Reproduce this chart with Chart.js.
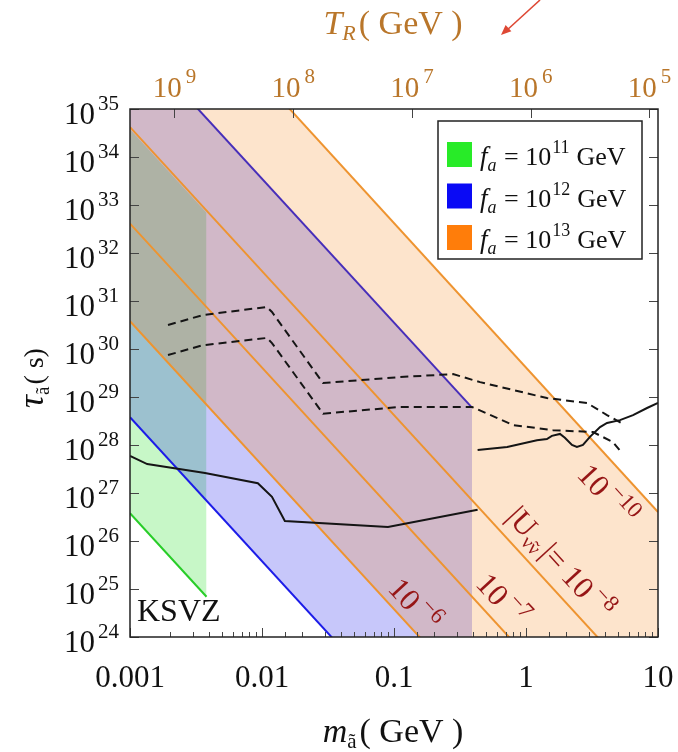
<!DOCTYPE html>
<html>
<head>
<meta charset="utf-8">
<script src="https://cdn.jsdelivr.net/npm/chart.js@4.4.1/dist/chart.umd.min.js"></script>
<style>
  html, body { margin: 0; padding: 0; background: #fff; }
  canvas { display: block; }
</style>
</head>
<body>
<canvas id="chart" width="678" height="752"></canvas>
<script>
// axis ticks
const massTicks = [0.001, 0.01, 0.1, 1, 10]
const massTickLabels = ["0.001", "0.01", "0.1", "1", "10"]
const tauTickExps = [24, 25, 26, 27, 28, 29, 30, 31, 32, 33, 34, 35]
const trTickExps = [9, 8, 7, 6, 5]
const trRange = [8.47e4, 2.37e9]

// f_a = 10^11 GeV band
const greenMass = [0.001, 0.0038]
const greenLowTau = [3.8e26, 6.9e24]
const greenHighTau = [3.8e34, 6.9e32]

// f_a = 10^12 GeV band
const blueMass = [0.001, 0.39]
const blueLowTau = [3.8e28, 6.4e20]
const blueHighTau = [3.5e36, 6.0e28]

// f_a = 10^13 GeV band and |U| lines
const orangeMass = [0.001, 10]
const mixing6Tau = [3.8e30, 3.8e18]
const mixing7Tau = [4.1e32, 4.1e20]
const mixing8Tau = [4.2e34, 4.2e22]
const mixing10Tau = [4.4e38, 4.0e26]

// black bounds
const boundAMass = [0.001, 0.00135, 0.0037, 0.0093, 0.0119, 0.0149, 0.09, 0.43]
const boundATau = [5.9e27, 4.0e27, 2.6e27, 1.6e27, 8.3e26, 2.6e26, 1.95e26, 4.5e26]
const boundBMass = [0.43, 0.72, 1.21, 1.44, 1.57, 1.81, 1.97, 2.23, 2.43, 2.7, 3.05, 3.64, 4.11, 5.15, 6.47, 8.26, 10]
const boundBTau = [7.9e27, 9.1e27, 1.26e28, 1.33e28, 1.55e28, 1.7e28, 1.41e28, 1.0e28, 9.1e27, 1.0e28, 1.48e28, 2.37e28, 2.88e28, 3.3e28, 4.2e28, 5.9e28, 7.5e28]
const dashUpMass = [0.00194, 0.00357, 0.0109, 0.0119, 0.029, 0.111, 0.28, 0.449, 1.44, 2.9, 4.11, 5.25]
const dashUpTau = [3.16e30, 5.1e30, 7.5e30, 5.9e30, 1.95e29, 2.6e29, 3.0e29, 2.04e29, 9.5e28, 7.5e28, 4.2e28, 2.9e28]
const dashLowMass = [0.00194, 0.00357, 0.0109, 0.0119, 0.029, 0.111, 0.39, 0.8, 1.6, 3.22, 4.56, 5.33]
const dashLowTau = [7.5e29, 1.2e30, 1.7e30, 1.33e30, 4.5e28, 6.2e28, 6.2e28, 2.6e28, 2.04e28, 1.86e28, 1.15e28, 6.8e27]

// |U| label anchors
const labelMass = [0.142, 0.658, 1.81, 4.11]
const labelTau = [4.7e24, 5.9e24, 3.5e25, 9.1e26]

const SERIF = '"Liberation Serif", "DejaVu Serif", serif'
const BROWN = "rgb(185,118,42)"
const DARKRED = "rgb(150,22,22)"

const pts = (xs, ys) => xs.map((x, i) => ({ x, y: ys[i] }))

const area = (xs, ys, color, order, fill) => ({
  data: pts(xs, ys),
  borderColor: "rgba(0,0,0,0)",
  borderWidth: 0,
  backgroundColor: color,
  fill: fill,
  order: order,
  pointRadius: 0,
})

const curve = (xs, ys, color, order, dash) => ({
  data: pts(xs, ys),
  borderColor: color,
  borderWidth: 2,
  borderDash: dash || [],
  fill: false,
  order: order,
  pointRadius: 0,
})

const ORANGE_LINE = "rgb(238,148,48)"
const BLUE_LINE = "rgb(28,28,232)"
const GREEN_LINE = "rgb(40,205,40)"

const datasets = [
  area(greenMass, greenLowTau, "rgba(0,220,0,0.22)", 6, false),
  area(greenMass, greenHighTau, "rgba(0,220,0,0.22)", 6, "-1"),
  curve(greenMass, greenLowTau, GREEN_LINE, 5),
  area(blueMass, blueLowTau, "rgba(0,0,230,0.22)", 4, false),
  area(blueMass, blueHighTau, "rgba(0,0,230,0.22)", 4, "-1"),
  curve(blueMass, blueLowTau, BLUE_LINE, 3),
  curve(blueMass, blueHighTau, BLUE_LINE, 3),
  area(orangeMass, mixing6Tau, "rgba(245,122,0,0.2)", 2, false),
  area(orangeMass, mixing10Tau, "rgba(245,122,0,0.2)", 2, "-1"),
  curve(orangeMass, mixing6Tau, ORANGE_LINE, 1),
  curve(orangeMass, mixing7Tau, ORANGE_LINE, 1),
  curve(orangeMass, mixing8Tau, ORANGE_LINE, 1),
  curve(orangeMass, mixing10Tau, ORANGE_LINE, 1),
  curve(boundAMass, boundATau, "#151515", 0),
  curve(boundBMass, boundBTau, "#151515", 0),
  curve(dashUpMass, dashUpTau, "#151515", 0, [8, 5]),
  curve(dashLowMass, dashLowTau, "#151515", 0, [8, 5]),
]

// draw text made of pieces (sub/superscripts)
function rich(ctx, parts, x, y, align) {
  let w = 0
  parts.forEach((p) => {
    ctx.font = (p.i ? "italic " : "") + p.s + "px " + SERIF
    p.w = ctx.measureText(p.t).width + (p.gap || 0) + (p.pre || 0)
    w += p.w
  })
  let cx = align === "center" ? x - w / 2 : align === "right" ? x - w : x
  ctx.textAlign = "left"
  ctx.textBaseline = "alphabetic"
  parts.forEach((p) => {
    ctx.font = (p.i ? "italic " : "") + p.s + "px " + SERIF
    ctx.fillText(p.t, cx + (p.pre || 0), y + (p.dy || 0))
    cx += p.w
  })
}

const isDecade = (v) => Math.abs(Math.log10(v) - Math.round(Math.log10(v))) < 1e-6

const decorations = {
  id: "decorations",
  afterDraw(chart) {
    const { ctx, chartArea: a, scales } = chart
    const xs = scales.x
    const ys = scales.y
    const ts = scales.x2
    ctx.save()

    // ticks
    ctx.strokeStyle = "#444"
    ctx.lineWidth = 1
    ctx.beginPath()
    xs.ticks.forEach((t) => {
      const px = Math.round(xs.getPixelForValue(t.value)) + 0.5
      const len = isDecade(t.value) ? 9 : 5
      ctx.moveTo(px, a.bottom)
      ctx.lineTo(px, a.bottom - len)
    })
    ys.ticks.forEach((t) => {
      if (!isDecade(t.value)) return
      const py = Math.round(ys.getPixelForValue(t.value)) + 0.5
      ctx.moveTo(a.left, py)
      ctx.lineTo(a.left + 9, py)
      ctx.moveTo(a.right, py)
      ctx.lineTo(a.right - 9, py)
    })
    ts.ticks.forEach((t) => {
      if (!isDecade(t.value)) return
      const px = Math.round(ts.getPixelForValue(t.value)) + 0.5
      ctx.moveTo(px, a.top)
      ctx.lineTo(px, a.top + 9)
    })
    ctx.stroke()

    // frame
    ctx.strokeStyle = "#222"
    ctx.lineWidth = 1.5
    ctx.strokeRect(a.left, a.top, a.right - a.left, a.bottom - a.top)

    // tick labels
    ctx.fillStyle = "#111"
    tauTickExps.forEach((e) => {
      const py = ys.getPixelForValue(Math.pow(10, e))
      rich(ctx, [{ t: "10", s: 31 }, { t: String(e), s: 21, dy: -14, pre: 3 }], 119, py + 15, "right")
    })
    ctx.font = "31px " + SERIF
    ctx.textAlign = "center"
    massTicks.forEach((m, i) => {
      ctx.fillText(massTickLabels[i], xs.getPixelForValue(m), 687)
    })
    ctx.fillStyle = BROWN
    trTickExps.forEach((e) => {
      const px = ts.getPixelForValue(Math.pow(10, e))
      rich(ctx, [{ t: "10", s: 29 }, { t: String(e), s: 21, dy: -14, pre: 4 }], px, 97, "center")
    })

    // axis titles
    rich(ctx, [{ t: "T", s: 34, i: true }, { t: "R", s: 22, i: true, dy: 6, gap: 3 }, { t: "( GeV )", s: 34 }], 393, 34, "center")
    ctx.fillStyle = "#111"
    rich(ctx, [{ t: "m", s: 34, i: true }, { t: "ã", s: 21, dy: 6, gap: 3 }, { t: "( GeV )", s: 34 }], 393, 742, "center")
    ctx.save()
    ctx.translate(33, 378)
    ctx.rotate(-Math.PI / 2)
    rich(ctx, [{ t: "τ", s: 36, i: true }, { t: "ã", s: 19, dy: 6, gap: 2 }, { t: "( s)", s: 28 }], 0, 10, "center")
    ctx.restore()

    // KSVZ
    ctx.font = "32px " + SERIF
    ctx.textAlign = "left"
    ctx.fillText("KSVZ", 137, 621)

    // |U| labels along the lines
    const p0x = xs.getPixelForValue(orangeMass[0])
    const p0y = ys.getPixelForValue(mixing8Tau[0])
    const p1x = xs.getPixelForValue(orangeMass[1])
    const p1y = ys.getPixelForValue(mixing8Tau[1])
    const ang = Math.atan2(p1y - p0y, p1x - p0x)
    const labels = [
      [{ t: "10", s: 31 }, { t: "−6", s: 23, dy: -13, pre: 4 }],
      [{ t: "10", s: 31 }, { t: "−7", s: 23, dy: -13, pre: 4 }],
      [{ t: "|U", s: 31 }, { t: "ν̃ν", s: 20, dy: 6, gap: 3 }, { t: "|= 10", s: 31 }, { t: "−8", s: 23, dy: -13, pre: 4 }],
      [{ t: "10", s: 31 }, { t: "−10", s: 23, dy: -13, pre: 4 }],
    ]
    ctx.fillStyle = DARKRED
    labels.forEach((parts, i) => {
      ctx.save()
      ctx.translate(xs.getPixelForValue(labelMass[i]), ys.getPixelForValue(labelTau[i]))
      ctx.rotate(ang)
      rich(ctx, parts, 0, 10, "center")
      ctx.restore()
    })

    // legend
    const lx = 438, ly = 121, lw = 204, lh = 138
    ctx.fillStyle = "#fff"
    ctx.fillRect(lx, ly, lw, lh)
    ctx.strokeStyle = "#222"
    ctx.lineWidth = 1.5
    ctx.strokeRect(lx, ly, lw, lh)
    const legendColors = ["rgb(40,235,40)", "rgb(10,10,245)", "rgb(255,125,10)"]
    const legendExps = ["11", "12", "13"]
    legendColors.forEach((c, i) => {
      const by = 165 + i * 41.5
      ctx.fillStyle = c
      ctx.fillRect(447, by - 23, 25, 25)
      ctx.fillStyle = "#111"
      rich(ctx, [
        { t: "f", s: 27, i: true },
        { t: "a", s: 18, i: true, dy: 6, gap: 1 },
        { t: " = 10", s: 26 },
        { t: legendExps[i], s: 18, dy: -12, pre: 1, gap: 7 },
        { t: "GeV", s: 26 },
      ], 480, by, "left")
    })

    // red arrow at top right
    ctx.strokeStyle = "rgb(222,72,52)"
    ctx.fillStyle = "rgb(222,72,52)"
    ctx.lineWidth = 1.6
    ctx.beginPath()
    ctx.moveTo(540, 0)
    ctx.lineTo(506, 31)
    ctx.stroke()
    const aa = Math.atan2(31, 506 - 540)
    ctx.beginPath()
    ctx.moveTo(501, 35)
    ctx.lineTo(501 - 11 * Math.cos(aa - 0.4), 35 - 11 * Math.sin(aa - 0.4))
    ctx.lineTo(501 - 11 * Math.cos(aa + 0.4), 35 - 11 * Math.sin(aa + 0.4))
    ctx.closePath()
    ctx.fill()

    ctx.restore()
  },
}

new Chart(document.getElementById("chart"), {
  type: "line",
  data: { datasets },
  options: {
    responsive: false,
    animation: false,
    layout: { padding: { right: 20 } },
    plugins: { legend: { display: false }, tooltip: { enabled: false } },
    elements: { line: { tension: 0 } },
    scales: {
      x: {
        type: "logarithmic",
        position: "bottom",
        min: massTicks[0],
        max: massTicks[massTicks.length - 1],
        grid: { display: false },
        border: { display: false },
        ticks: { display: false },
        afterFit: (s) => { s.height = 115 },
      },
      x2: {
        type: "logarithmic",
        position: "top",
        reverse: true,
        min: trRange[0],
        max: trRange[1],
        grid: { display: false },
        border: { display: false },
        ticks: { display: false },
        afterFit: (s) => { s.height = 109 },
      },
      y: {
        type: "logarithmic",
        min: Math.pow(10, tauTickExps[0]),
        max: Math.pow(10, tauTickExps[tauTickExps.length - 1]),
        grid: { display: false },
        border: { display: false },
        ticks: { display: false },
        afterFit: (s) => { s.width = 130 },
      },
    },
  },
  plugins: [decorations],
})
</script>
</body>
</html>
